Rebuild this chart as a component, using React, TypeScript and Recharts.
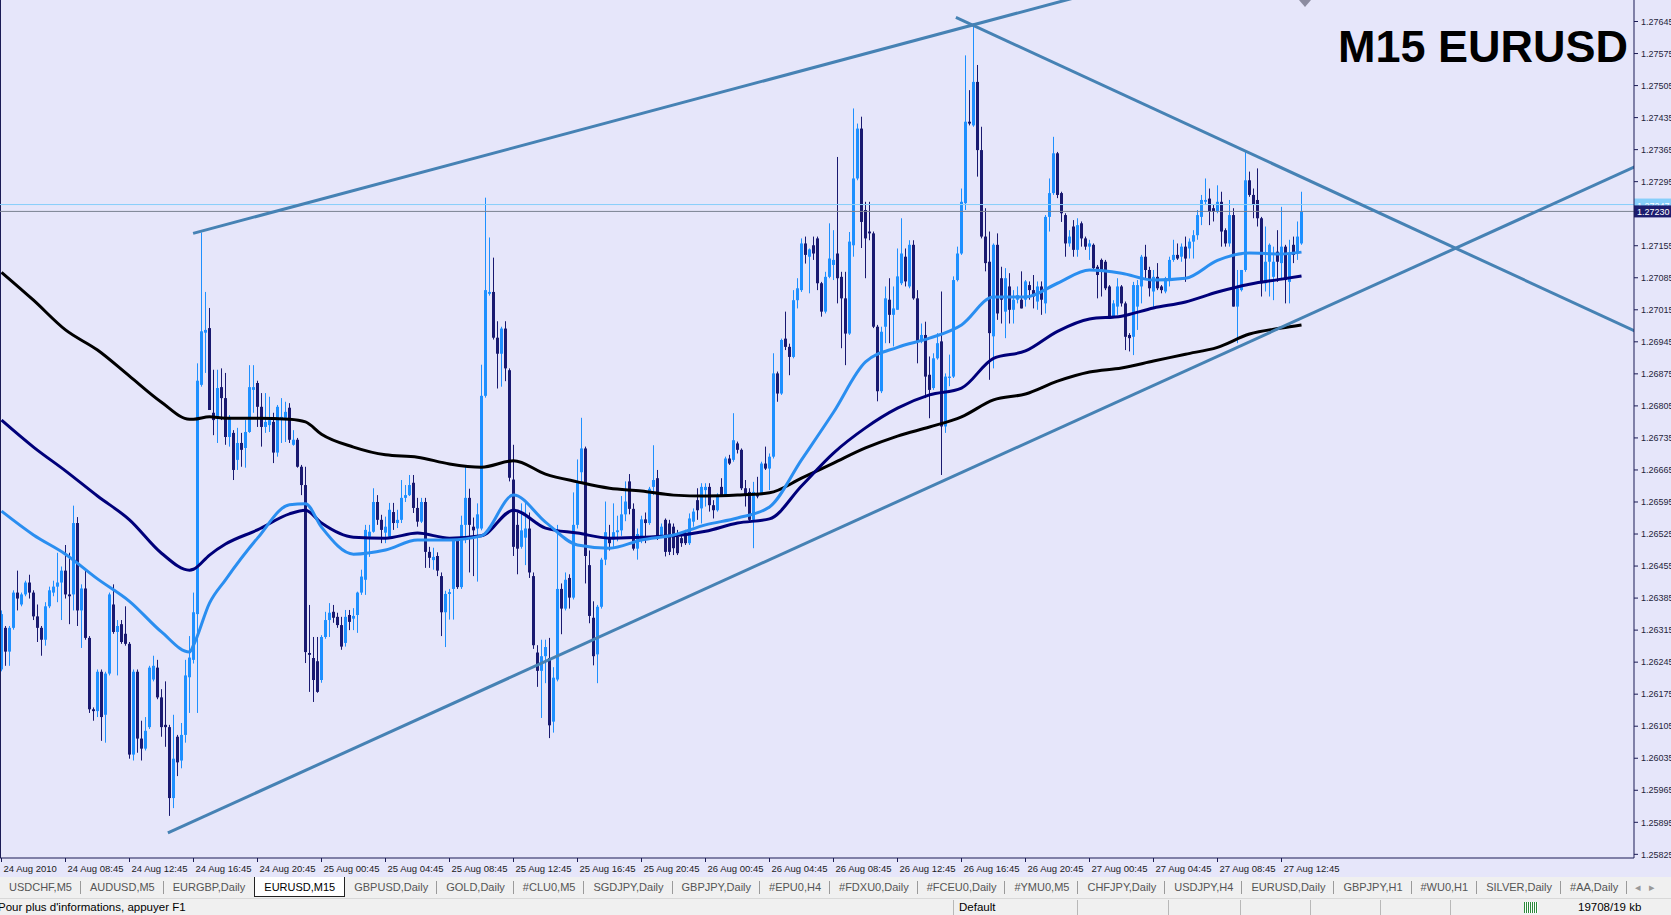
import React from 'react'
import { Bar, ComposedChart, Line, ReferenceLine, XAxis, YAxis } from 'recharts'

type Ohlc = [number, number, number, number]

// M15 bars, [open, high, low, close]
// 24 Aug 2010, 04:45 - 23:45
const aug24: Ohlc[] = [
	[1.26229, 1.26358, 1.26225, 1.2635], [1.2632, 1.26324, 1.26237, 1.26268], [1.26268, 1.26324, 1.26237, 1.2632],
	[1.2632, 1.26402, 1.26316, 1.26397], [1.26397, 1.26445, 1.26358, 1.26384], [1.26371, 1.26397, 1.26367, 1.26393],
	[1.26393, 1.26423, 1.26389, 1.26419], [1.26419, 1.26436, 1.26384, 1.26397], [1.26397, 1.26402, 1.26337, 1.26345],
	[1.26345, 1.26371, 1.26289, 1.2632], [1.2632, 1.26324, 1.26259, 1.26294], [1.26294, 1.26376, 1.26281, 1.26367],
	[1.26367, 1.2641, 1.26363, 1.26402], [1.26397, 1.26423, 1.26389, 1.2641], [1.2641, 1.26484, 1.26376, 1.26419],
	[1.26419, 1.26454, 1.26337, 1.26445], [1.26445, 1.26501, 1.26384, 1.26393], [1.26393, 1.26484, 1.26328, 1.26389],
	[1.26393, 1.26587, 1.26358, 1.26549], [1.26549, 1.26562, 1.26324, 1.26358], [1.26358, 1.26415, 1.26276, 1.26406],
	[1.26406, 1.26445, 1.26294, 1.26298], [1.26298, 1.26302, 1.26134, 1.26142], [1.26142, 1.26146, 1.26117, 1.26138],
	[1.26138, 1.26229, 1.26125, 1.26224], [1.26224, 1.26229, 1.26073, 1.26125], [1.2613, 1.26224, 1.26069, 1.2622],
	[1.2622, 1.26397, 1.26216, 1.26393], [1.26371, 1.26415, 1.26307, 1.26311], [1.26311, 1.26337, 1.26216, 1.26324],
	[1.26328, 1.26337, 1.26285, 1.26289], [1.26307, 1.26367, 1.26281, 1.26285], [1.26285, 1.26289, 1.26034, 1.26043],
	[1.26043, 1.26229, 1.2603, 1.26224], [1.26224, 1.26229, 1.26047, 1.26078], [1.26078, 1.26117, 1.2603, 1.26056],
	[1.26056, 1.26125, 1.26052, 1.26095], [1.26103, 1.26237, 1.26099, 1.26233], [1.26207, 1.26259, 1.26203, 1.26237],
	[1.26233, 1.2625, 1.26164, 1.26168], [1.26168, 1.26186, 1.26082, 1.26103], [1.26108, 1.26203, 1.2606, 1.26103],
	[1.26103, 1.26108, 1.25909, 1.25948], [1.25948, 1.2613, 1.25926, 1.26034], [1.26082, 1.26086, 1.25996, 1.26026],
	[1.2603, 1.26112, 1.26013, 1.26086], [1.26086, 1.2625, 1.26069, 1.26216], [1.26212, 1.26302, 1.26134, 1.26255],
	[1.2625, 1.26397, 1.26242, 1.26354], [1.2635, 1.26898, 1.26134, 1.2686], [1.26851, 1.27184, 1.26847, 1.26968],
	[1.26965, 1.27054, 1.26877, 1.26971], [1.26975, 1.27019, 1.26796, 1.26796], [1.2679, 1.26884, 1.26741, 1.26774],
	[1.26779, 1.26884, 1.26724, 1.26844], [1.26846, 1.26887, 1.26774, 1.26822], [1.26822, 1.26877, 1.2672, 1.26737],
	[1.26737, 1.26785, 1.26716, 1.26781], [1.26746, 1.26752, 1.26643, 1.26665], [1.26687, 1.26757, 1.26665, 1.26724],
	[1.26724, 1.26746, 1.26672, 1.26709], [1.26713, 1.26774, 1.2667, 1.26748], [1.26748, 1.26894, 1.26746, 1.26846],
	[1.2684, 1.26894, 1.2679, 1.26846], [1.26855, 1.2686, 1.26759, 1.26803], [1.26803, 1.26833, 1.26716, 1.26759],
	[1.26759, 1.26833, 1.26746, 1.2677], [1.26763, 1.26825, 1.26748, 1.26774], [1.2677, 1.2679, 1.2668, 1.26703],
	[1.26703, 1.26807, 1.26694, 1.26803], [1.26776, 1.26822, 1.26724, 1.26781], [1.26779, 1.26814, 1.26726, 1.26792],
	[1.26801, 1.26811, 1.26724, 1.26731], [1.2672, 1.26752, 1.26718, 1.26731], [1.26731, 1.26735, 1.2667, 1.26672],
	[1.26672, 1.26676, 1.2661, 1.26632], [1.26632, 1.26672, 1.26243, 1.26267],
]

// 25 Aug 2010
const aug25: Ohlc[] = [
	[1.26265, 1.2637, 1.2618, 1.26261], [1.26254, 1.263, 1.26158, 1.26206], [1.26247, 1.263, 1.26178, 1.2618],
	[1.26206, 1.26304, 1.262, 1.263], [1.263, 1.26355, 1.26296, 1.26337], [1.26337, 1.26374, 1.263, 1.26353],
	[1.26355, 1.2637, 1.26331, 1.26342], [1.26344, 1.26353, 1.2632, 1.26326], [1.26326, 1.26344, 1.26272, 1.26279],
	[1.26287, 1.26359, 1.26279, 1.26344], [1.26348, 1.26359, 1.26315, 1.26333], [1.2634, 1.26363, 1.26315, 1.26346],
	[1.26348, 1.26399, 1.26309, 1.26397], [1.26397, 1.26447, 1.26392, 1.26432], [1.26425, 1.26545, 1.26392, 1.26534],
	[1.26519, 1.26545, 1.26475, 1.2653], [1.2653, 1.26625, 1.26528, 1.26595], [1.26595, 1.2661, 1.26545, 1.26556],
	[1.26556, 1.26567, 1.26505, 1.26534], [1.26528, 1.26563, 1.26505, 1.26541], [1.26519, 1.26593, 1.26517, 1.26578],
	[1.26573, 1.26593, 1.26534, 1.26549], [1.26549, 1.26578, 1.26538, 1.26556], [1.26556, 1.26643, 1.26549, 1.26604],
	[1.26604, 1.26632, 1.26595, 1.2661], [1.2661, 1.26654, 1.26608, 1.26632], [1.26637, 1.26654, 1.26571, 1.26582],
	[1.26582, 1.26604, 1.26541, 1.26552], [1.26552, 1.26604, 1.26549, 1.26595], [1.26595, 1.26604, 1.26451, 1.26486],
	[1.26486, 1.26497, 1.26451, 1.26473], [1.26468, 1.26495, 1.26447, 1.26475], [1.26477, 1.26485, 1.26433, 1.26445],
	[1.26433, 1.26441, 1.26302, 1.26354], [1.26354, 1.26401, 1.26278, 1.26394], [1.26394, 1.26405, 1.26338, 1.26398],
	[1.26405, 1.26517, 1.26338, 1.26513], [1.26513, 1.26517, 1.26405, 1.26409], [1.26409, 1.26565, 1.26405, 1.26545],
	[1.26545, 1.26672, 1.26505, 1.26604], [1.26604, 1.26624, 1.26441, 1.26545], [1.26541, 1.26561, 1.26433, 1.26533],
	[1.26537, 1.26592, 1.26421, 1.26568], [1.26537, 1.26895, 1.26533, 1.26827], [1.26827, 1.2726, 1.26823, 1.27058],
	[1.2705, 1.27173, 1.27046, 1.27054], [1.27054, 1.27129, 1.2695, 1.26954], [1.26954, 1.2699, 1.26843, 1.26919],
	[1.26919, 1.26978, 1.26847, 1.26974], [1.26974, 1.2699, 1.26859, 1.26887], [1.26883, 1.26887, 1.2664, 1.26648],
	[1.26644, 1.2672, 1.26477, 1.26497], [1.26545, 1.26572, 1.26437, 1.26493], [1.26497, 1.26592, 1.26493, 1.26533],
	[1.26517, 1.26596, 1.26457, 1.26537], [1.26537, 1.26572, 1.26429, 1.26441], [1.26433, 1.26441, 1.26274, 1.26282],
	[1.26266, 1.26282, 1.26191, 1.26226], [1.26226, 1.26294, 1.26123, 1.26258], [1.26258, 1.26294, 1.26199, 1.26278],
	[1.26254, 1.26298, 1.26079, 1.26107], [1.26115, 1.26234, 1.26091, 1.26211], [1.26207, 1.26545, 1.26203, 1.26405],
	[1.26405, 1.26417, 1.26306, 1.26362], [1.26362, 1.26441, 1.26358, 1.26425], [1.26429, 1.26437, 1.26362, 1.26386],
	[1.26386, 1.26616, 1.26382, 1.26545], [1.26545, 1.26688, 1.26537, 1.2664], [1.2666, 1.26779, 1.2664, 1.26712],
	[1.26712, 1.26716, 1.26417, 1.26477], [1.26457, 1.26489, 1.2633, 1.26346], [1.26342, 1.26378, 1.26238, 1.26258],
	[1.26262, 1.2637, 1.26199, 1.26366], [1.26366, 1.26473, 1.26362, 1.26469], [1.26469, 1.26596, 1.26457, 1.26529],
	[1.26517, 1.26545, 1.26489, 1.26505], [1.26513, 1.26592, 1.26497, 1.26529], [1.26529, 1.26565, 1.26509, 1.26533],
	[1.26533, 1.26608, 1.26521, 1.26568], [1.26568, 1.2664, 1.26553, 1.26596], [1.2664, 1.26656, 1.26568, 1.2658],
	[1.2658, 1.26592, 1.26489, 1.26493], [1.26493, 1.26537, 1.26469, 1.26525], [1.26513, 1.26565, 1.26505, 1.26557],
	[1.26557, 1.26572, 1.26505, 1.26549], [1.26549, 1.26628, 1.26545, 1.26624], [1.26628, 1.26719, 1.2661, 1.26643],
	[1.26647, 1.26665, 1.26512, 1.26519], [1.26519, 1.26548, 1.26516, 1.26541], [1.26556, 1.26559, 1.26476, 1.26486],
	[1.26548, 1.26556, 1.26479, 1.26486], [1.26541, 1.26548, 1.26479, 1.26494], [1.26519, 1.26534, 1.26479, 1.26483],
	[1.26516, 1.26523, 1.26497, 1.26505], [1.26526, 1.26534, 1.26501, 1.26505], [1.26505, 1.2657, 1.26501, 1.26559],
]

// 26 Aug 2010
const aug26: Ohlc[] = [
	[1.26552, 1.26581, 1.26541, 1.26574], [1.26599, 1.26625, 1.26556, 1.26577], [1.26581, 1.26636, 1.26548, 1.26628],
	[1.26621, 1.26636, 1.26585, 1.26628], [1.26628, 1.26636, 1.26574, 1.26588], [1.26588, 1.26599, 1.26559, 1.26577],
	[1.26577, 1.26614, 1.26574, 1.2661], [1.26628, 1.26647, 1.26607, 1.2661], [1.2661, 1.26694, 1.26607, 1.2669],
	[1.2669, 1.26698, 1.26676, 1.26679], [1.26687, 1.26789, 1.26683, 1.2673], [1.26723, 1.26727, 1.26701, 1.26709],
	[1.26709, 1.26712, 1.26621, 1.26625], [1.26625, 1.26643, 1.26585, 1.2661], [1.26617, 1.26625, 1.26552, 1.26556],
	[1.26556, 1.26639, 1.26494, 1.26617], [1.26614, 1.2665, 1.26603, 1.26607], [1.2661, 1.26683, 1.2661, 1.26679],
	[1.26679, 1.26716, 1.26665, 1.26668], [1.26668, 1.26701, 1.26621, 1.26694], [1.26694, 1.2692, 1.2669, 1.26876],
	[1.26876, 1.2688, 1.26814, 1.26832], [1.26832, 1.26952, 1.26829, 1.26949], [1.26952, 1.27011, 1.26927, 1.26934],
	[1.26934, 1.26941, 1.26872, 1.26912], [1.26912, 1.27058, 1.26909, 1.27036], [1.27036, 1.27084, 1.27018, 1.27062],
	[1.27058, 1.27171, 1.27054, 1.2716], [1.2716, 1.27175, 1.27116, 1.27135], [1.27131, 1.27149, 1.27051, 1.27147],
	[1.27156, 1.27175, 1.27124, 1.27138], [1.27171, 1.27175, 1.27058, 1.27073], [1.27073, 1.27076, 1.27, 1.27011],
	[1.27011, 1.27098, 1.27007, 1.27087], [1.27087, 1.27204, 1.27084, 1.27127], [1.27113, 1.27189, 1.2708, 1.27124],
	[1.27138, 1.27349, 1.27029, 1.27084], [1.27087, 1.27098, 1.26931, 1.2704], [1.2704, 1.27098, 1.26894, 1.26963],
	[1.26963, 1.27185, 1.2696, 1.27164], [1.27156, 1.27455, 1.27131, 1.27302], [1.27302, 1.27422, 1.27298, 1.27411],
	[1.27411, 1.27437, 1.2715, 1.27207], [1.27233, 1.27251, 1.27084, 1.27171], [1.27186, 1.27251, 1.27167, 1.27182],
	[1.27182, 1.27186, 1.26975, 1.26978], [1.26978, 1.26982, 1.26815, 1.26837], [1.26837, 1.26978, 1.26833, 1.26967],
	[1.26978, 1.27066, 1.26942, 1.2704], [1.27037, 1.27084, 1.26942, 1.27004], [1.27004, 1.27066, 1.26935, 1.27018],
	[1.27015, 1.27149, 1.27015, 1.27088], [1.27073, 1.27215, 1.27069, 1.27138], [1.27131, 1.27149, 1.27066, 1.27077],
	[1.27066, 1.27167, 1.27062, 1.27157], [1.27157, 1.27167, 1.27037, 1.2704], [1.2704, 1.27058, 1.26898, 1.26946],
	[1.26946, 1.26985, 1.26942, 1.2696], [1.2696, 1.26989, 1.26822, 1.26869], [1.26873, 1.26913, 1.26778, 1.2684],
	[1.26844, 1.2692, 1.2684, 1.26909], [1.26909, 1.26964, 1.26906, 1.26942], [1.26946, 1.27055, 1.26654, 1.2676],
	[1.2676, 1.26876, 1.26746, 1.26869], [1.26866, 1.26917, 1.26848, 1.26869], [1.26869, 1.27088, 1.26866, 1.2708],
	[1.2708, 1.27153, 1.27077, 1.27138], [1.27138, 1.2728, 1.27135, 1.27251], [1.27248, 1.27571, 1.27233, 1.27426],
	[1.27426, 1.27495, 1.27418, 1.27422], [1.27418, 1.27641, 1.27415, 1.27513], [1.27513, 1.2755, 1.27306, 1.27364],
	[1.27364, 1.27415, 1.27171, 1.27175], [1.27175, 1.27237, 1.27099, 1.27117], [1.2712, 1.27186, 1.26862, 1.26964],
	[1.26957, 1.2716, 1.26887, 1.27157], [1.27157, 1.27182, 1.26993, 1.27007], [1.27084, 1.27109, 1.26985, 1.27037],
	[1.27011, 1.27106, 1.26953, 1.27084], [1.27066, 1.27095, 1.26985, 1.27015], [1.27015, 1.27058, 1.26985, 1.27037],
	[1.27037, 1.27066, 1.27029, 1.27047], [1.27037, 1.27099, 1.27018, 1.27018], [1.27037, 1.2708, 1.27022, 1.27077],
	[1.27069, 1.27077, 1.27037, 1.27058], [1.27058, 1.27091, 1.27018, 1.27044], [1.27033, 1.27077, 1.27015, 1.27066],
	[1.27066, 1.27077, 1.27004, 1.27037], [1.27029, 1.27222, 1.27007, 1.27218], [1.27218, 1.27302, 1.27186, 1.2727],
	[1.2727, 1.27393, 1.27266, 1.27357], [1.27357, 1.2736, 1.27259, 1.27266], [1.2727, 1.27273, 1.27207, 1.27226],
	[1.27222, 1.27226, 1.27131, 1.2716], [1.2716, 1.27189, 1.27153, 1.27175], [1.27197, 1.27211, 1.27131, 1.27146],
]

// 27 Aug 2010, up to 14:00
const aug27: Ohlc[] = [
	[1.27146, 1.27215, 1.27131, 1.272], [1.27204, 1.27208, 1.27153, 1.27171], [1.27171, 1.27175, 1.27146, 1.27153],
	[1.27153, 1.27168, 1.27124, 1.2716], [1.27157, 1.2716, 1.27102, 1.27106], [1.27109, 1.27113, 1.2704, 1.27091],
	[1.27124, 1.27127, 1.27044, 1.27102], [1.2712, 1.27124, 1.27058, 1.27062], [1.27066, 1.27069, 1.26996, 1.27],
	[1.27, 1.27036, 1.27, 1.27029], [1.27022, 1.27084, 1.27004, 1.27066], [1.27066, 1.27069, 1.27022, 1.27029],
	[1.27029, 1.27033, 1.26927, 1.26956], [1.2696, 1.26964, 1.26924, 1.26953], [1.26956, 1.27076, 1.26916, 1.27069],
	[1.27022, 1.2708, 1.26971, 1.27069], [1.27066, 1.27135, 1.27029, 1.27131], [1.27131, 1.27157, 1.2708, 1.27102],
	[1.27102, 1.27109, 1.27044, 1.27062], [1.27055, 1.27102, 1.27018, 1.27087], [1.27087, 1.27117, 1.27058, 1.27062],
	[1.27066, 1.27069, 1.27051, 1.27058], [1.27055, 1.27087, 1.27051, 1.27084], [1.27084, 1.27131, 1.27066, 1.27124],
	[1.27124, 1.27168, 1.2712, 1.27135], [1.27135, 1.2716, 1.27124, 1.27127], [1.27131, 1.2716, 1.2712, 1.27153],
	[1.27153, 1.27175, 1.27076, 1.27127], [1.27149, 1.27171, 1.27127, 1.27164], [1.27164, 1.27189, 1.27127, 1.27178],
	[1.27178, 1.27233, 1.27168, 1.27222], [1.27218, 1.27266, 1.272, 1.27255], [1.27251, 1.27302, 1.27244, 1.27255],
	[1.27258, 1.2728, 1.272, 1.27229], [1.27237, 1.27244, 1.27208, 1.27229], [1.27229, 1.27287, 1.27226, 1.27251],
	[1.27251, 1.27273, 1.27153, 1.27186], [1.27189, 1.27193, 1.27153, 1.2716], [1.2716, 1.27255, 1.27153, 1.27222],
	[1.27222, 1.27237, 1.27022, 1.27022], [1.27022, 1.27102, 1.26942, 1.27062], [1.27058, 1.27102, 1.27055, 1.27102],
	[1.27102, 1.2736, 1.27098, 1.27298], [1.27298, 1.27317, 1.27262, 1.27266], [1.27266, 1.2728, 1.27215, 1.27244],
	[1.27255, 1.27324, 1.27197, 1.27215], [1.27215, 1.27218, 1.27044, 1.27073], [1.27073, 1.27197, 1.27055, 1.2712],
	[1.2712, 1.2716, 1.27044, 1.27157], [1.27087, 1.27153, 1.27036, 1.2712], [1.27142, 1.27189, 1.27076, 1.2712],
	[1.27117, 1.2724, 1.2708, 1.27153], [1.27153, 1.27157, 1.27029, 1.2708], [1.27076, 1.27168, 1.27029, 1.27135],
	[1.27157, 1.27175, 1.27117, 1.27135], [1.27138, 1.27208, 1.27124, 1.27175], [1.2716, 1.27273, 1.27157, 1.2723],
]

// moving averages, read every 8 bars (bar index -> value)
const maBars = [0, 8, 16, 24, 32, 40, 47, 48, 52, 56, 64, 72, 76, 80, 88, 96, 104, 112, 120, 128, 136, 144, 152, 160, 168, 176, 184, 192, 200, 208, 216, 224, 232, 240, 248, 256, 264, 272, 280, 288, 296, 304, 312, 320, 325]
const maFast = [1.26575, 1.26523, 1.26481, 1.26427, 1.26378, 1.26311, 1.26267, 1.26282, 1.26374, 1.26425, 1.26516, 1.26589, 1.26591, 1.2654, 1.26481, 1.2649, 1.26512, 1.26512, 1.26521, 1.2661, 1.26551, 1.26501, 1.26494, 1.26512, 1.26523, 1.26545, 1.2656, 1.26584, 1.26687, 1.26791, 1.26901, 1.26933, 1.26953, 1.26982, 1.27043, 1.27043, 1.27073, 1.27102, 1.27095, 1.2708, 1.27084, 1.27123, 1.27139, 1.27137, 1.27141]
const maMid = [1.26774, 1.26715, 1.26663, 1.26608, 1.26556, 1.26483, 1.26446, 1.26448, 1.26479, 1.26503, 1.26534, 1.26569, 1.26577, 1.26549, 1.26518, 1.26516, 1.26527, 1.26516, 1.26521, 1.26577, 1.26538, 1.26527, 1.26516, 1.26518, 1.26521, 1.26531, 1.26549, 1.26558, 1.2663, 1.26702, 1.26757, 1.268, 1.26829, 1.26844, 1.26909, 1.26925, 1.26968, 1.26995, 1.27001, 1.27019, 1.27032, 1.27054, 1.27071, 1.27082, 1.27089]
const maSlow = [1.27097, 1.27036, 1.26971, 1.26927, 1.2687, 1.26813, 1.26776, 1.26776, 1.26781, 1.26778, 1.26778, 1.26776, 1.2677, 1.26743, 1.26715, 1.26698, 1.26693, 1.26678, 1.26671, 1.26685, 1.26656, 1.26639, 1.26625, 1.26619, 1.2661, 1.26608, 1.2661, 1.26615, 1.26647, 1.2668, 1.26713, 1.26739, 1.26759, 1.26781, 1.26818, 1.26831, 1.26859, 1.26879, 1.26888, 1.26903, 1.26918, 1.26933, 1.26962, 1.26975, 1.26982]

// trend lines drawn on the chart: [bar, price] end points
const channelTop = [[47.9, 1.27182], [299.6, 1.2777]]
const supportLine = [[41.6, 1.25872], [424.6, 1.27392]]
const resistanceLine = [[238.6, 1.27654], [424.6, 1.26903]]

const askPrice = 1.27245
const bidPrice = 1.2723

const timeLabels = [
	'24 Aug 2010', '24 Aug 08:45', '24 Aug 12:45', '24 Aug 16:45', '24 Aug 20:45',
	'25 Aug 00:45', '25 Aug 04:45', '25 Aug 08:45', '25 Aug 12:45', '25 Aug 16:45', '25 Aug 20:45',
	'26 Aug 00:45', '26 Aug 04:45', '26 Aug 08:45', '26 Aug 12:45', '26 Aug 16:45', '26 Aug 20:45',
	'27 Aug 00:45', '27 Aug 04:45', '27 Aug 08:45', '27 Aug 12:45',
]
const priceTicks = [
	1.27645, 1.27575, 1.27505, 1.27435, 1.27365, 1.27295, 1.27155, 1.27085, 1.27015, 1.26945,
	1.26875, 1.26805, 1.26735, 1.26665, 1.26595, 1.26525, 1.26455, 1.26385, 1.26315, 1.26245,
	1.26175, 1.26105, 1.26035, 1.25965, 1.25895, 1.25825,
]

const tabs = [
	'USDCHF,M5', 'AUDUSD,M5', 'EURGBP,Daily', 'EURUSD,M15', 'GBPUSD,Daily', 'GOLD,Daily', '#CLU0,M5',
	'SGDJPY,Daily', 'GBPJPY,Daily', '#EPU0,H4', '#FDXU0,Daily', '#FCEU0,Daily', '#YMU0,M5', 'CHFJPY,Daily',
	'USDJPY,H4', 'EURUSD,Daily', 'GBPJPY,H1', '#WU0,H1', 'SILVER,Daily', '#AA,Daily',
]
const activeTab = 'EURUSD,M15'

const BARS_PER_LABEL = 16
const BULL = '#1e90ff'
const BEAR = '#191970'
const FRAME = '#1b1b55'
const UI_FONT = '"Liberation Sans", Arial, sans-serif'

const candles = [...aug24, ...aug25, ...aug26, ...aug27]
const rows = candles.map(([o, h, l, c], i) => {
	const k = maBars.indexOf(i)
	return {
		i, o, h, l, c,
		fast: k < 0 ? undefined : maFast[k],
		mid: k < 0 ? undefined : maMid[k],
		slow: k < 0 ? undefined : maSlow[k],
	}
})
const timeTicks = timeLabels.map((_, k) => k * BARS_PER_LABEL)

function CandleShape(props: any) {
	const { x, y, width, height, payload } = props
	if (x == null || !payload) return null
	const { o, h, l, c } = payload
	const top = Math.min(y, y + height)
	const span = Math.abs(height)
	const py = (v: number) => (h === l ? top : top + ((h - v) / (h - l)) * span)
	const cx = Math.floor(x + width / 2) + 0.5
	const color = c >= o ? BULL : BEAR
	const bodyTop = Math.min(py(o), py(c))
	const bodyH = Math.max(1, Math.abs(py(o) - py(c)))
	return (
		<g>
			<line x1={cx} x2={cx} y1={top} y2={top + Math.max(span, 1)} stroke={color} strokeWidth={1} />
			<rect x={cx - 1.5} y={bodyTop} width={3} height={bodyH} fill={color} />
		</g>
	)
}

function TimeTick(props: any) {
	const { x, y, payload } = props
	const label = timeLabels[Math.round(payload.value / BARS_PER_LABEL)]
	return (
		<text x={x + 2} y={y + 8} fontSize={9.5} fontFamily={UI_FONT} fill='#1a1a1a'>
			{label}
		</text>
	)
}

function PriceTag(props: any) {
	const { viewBox, text, bg, fg } = props
	if (!viewBox) return null
	const x = viewBox.x + viewBox.width
	const y = viewBox.y
	return (
		<g>
			<rect x={x} y={y - 6} width={40} height={12} fill={bg} />
			<text x={x + 3} y={y + 4} fontSize={9} fontFamily={UI_FONT} fill={fg}>
				{text}
			</text>
		</g>
	)
}

const seg = (pts: number[][]) => pts.map(([x, y]) => ({ x, y }))

export default function App() {
	return (
		<div
			style={{
				position: 'absolute',
				left: 0,
				top: 0,
				width: 1671,
				height: 915,
				overflow: 'hidden',
				background: '#e6e6fa',
				fontFamily: UI_FONT,
			}}
		>
			<ComposedChart width={1671} height={877} data={rows} margin={{ top: 0, right: 0, bottom: 0, left: 0 }}>
				<XAxis
					type='number'
					dataKey='i'
					domain={[-0.375, 408.125]}
					allowDataOverflow
					ticks={timeTicks}
					interval={0}
					tick={<TimeTick />}
					tickSize={4}
					tickMargin={2}
					height={19}
					stroke={FRAME}
				/>
				<YAxis
					orientation='right'
					type='number'
					domain={[1.25817, 1.27692]}
					allowDataOverflow
					ticks={priceTicks}
					interval={0}
					width={37}
					tickSize={4}
					tickMargin={3}
					tickFormatter={(v: number) => v.toFixed(5)}
					tick={{ fontSize: 9, fill: '#1f1f3a', fontFamily: UI_FONT }}
					stroke={FRAME}
				/>
				<Bar
					dataKey={(d: any) => [d.l, d.h]}
					barSize={3}
					shape={(p: any) => <CandleShape {...p} />}
					isAnimationActive={false}
				/>
				<Line dataKey='slow' type='monotone' stroke='#000000' strokeWidth={3} dot={false} activeDot={false} connectNulls isAnimationActive={false} />
				<Line dataKey='mid' type='monotone' stroke='#00007a' strokeWidth={3} dot={false} activeDot={false} connectNulls isAnimationActive={false} />
				<Line dataKey='fast' type='monotone' stroke='#2a8ef0' strokeWidth={3} dot={false} activeDot={false} connectNulls isAnimationActive={false} />
				<ReferenceLine x={-0.375} stroke={FRAME} strokeWidth={2} />
				<ReferenceLine y={askPrice} stroke='#87cefa' strokeWidth={1} label={<PriceTag text='1.27247' bg='#87cefa' fg='#ffffff' />} />
				<ReferenceLine y={bidPrice} stroke='#7a8290' strokeWidth={1} label={<PriceTag text='1.27230' bg='#1c1c6e' fg='#ffffff' />} />
				<ReferenceLine segment={seg(channelTop)} stroke='#4682b4' strokeWidth={3} ifOverflow='hidden' />
				<ReferenceLine segment={seg(supportLine)} stroke='#4682b4' strokeWidth={3} ifOverflow='hidden' />
				<ReferenceLine segment={seg(resistanceLine)} stroke='#4682b4' strokeWidth={3} ifOverflow='hidden' />
			</ComposedChart>

			{/* chart shift marker */}
			<div
				style={{
					position: 'absolute',
					left: 1299,
					top: 0,
					width: 0,
					height: 0,
					borderLeft: '6px solid transparent',
					borderRight: '6px solid transparent',
					borderTop: '7px solid #8c8ca0',
				}}
			/>
			<div
				style={{
					position: 'absolute',
					right: 43,
					top: 24,
					fontSize: 45,
					lineHeight: '45px',
					fontWeight: 'bold',
					color: '#000',
					whiteSpace: 'nowrap',
				}}
			>
				M15 EURUSD
			</div>

			{/* symbol tabs */}
			<div
				style={{
					position: 'absolute',
					left: 0,
					top: 877,
					width: 1671,
					height: 21,
					background: '#f0f0f0',
					display: 'flex',
					alignItems: 'flex-start',
					fontSize: 11,
					color: '#555',
				}}
			>
				{tabs.map((t, k) => {
					const active = t === activeTab
					const nextActive = tabs[k + 1] === activeTab
					return (
						<div
							key={t + k}
							style={{
								height: active ? 20 : 21,
								lineHeight: '20px',
								padding: '0 9px',
								background: active ? '#ffffff' : 'transparent',
								color: active ? '#000' : '#555',
								border: active ? '1px solid #222' : 'none',
								borderTop: 'none',
								boxSizing: 'border-box',
								position: 'relative',
								whiteSpace: 'nowrap',
							}}
						>
							{t}
							{!active && !nextActive && (
								<span style={{ position: 'absolute', right: 0, top: 4, width: 1, height: 13, background: '#9a9a9a' }} />
							)}
						</div>
					)
				})}
				<div style={{ marginLeft: 'auto', paddingRight: 8, lineHeight: '20px', color: '#999', letterSpacing: 8 }}>◂▸</div>
			</div>

			{/* status bar */}
			<div
				style={{
					position: 'absolute',
					left: 0,
					top: 898,
					width: 1671,
					height: 17,
					background: '#f0f0f0',
					borderTop: '1px solid #d8d8d8',
					fontSize: 11.5,
					color: '#000',
				}}
			>
				<span style={{ position: 'absolute', left: -2, top: 2 }}>Pour plus d'informations, appuyer F1</span>
				{[953, 1077, 1168, 1240, 1310, 1380, 1450].map((x) => (
					<span key={x} style={{ position: 'absolute', left: x, top: 1, width: 1, height: 15, background: '#b8b8b8' }} />
				))}
				<span style={{ position: 'absolute', left: 959, top: 2 }}>Default</span>
				<span
					style={{
						position: 'absolute',
						left: 1524,
						top: 3,
						width: 14,
						height: 11,
						background: 'repeating-linear-gradient(90deg, #2c8a3c 0 1px, #ffffff 1px 2px)',
					}}
				/>
				<span style={{ position: 'absolute', left: 1578, top: 2 }}>19708/19 kb</span>
			</div>
		</div>
	)
}
